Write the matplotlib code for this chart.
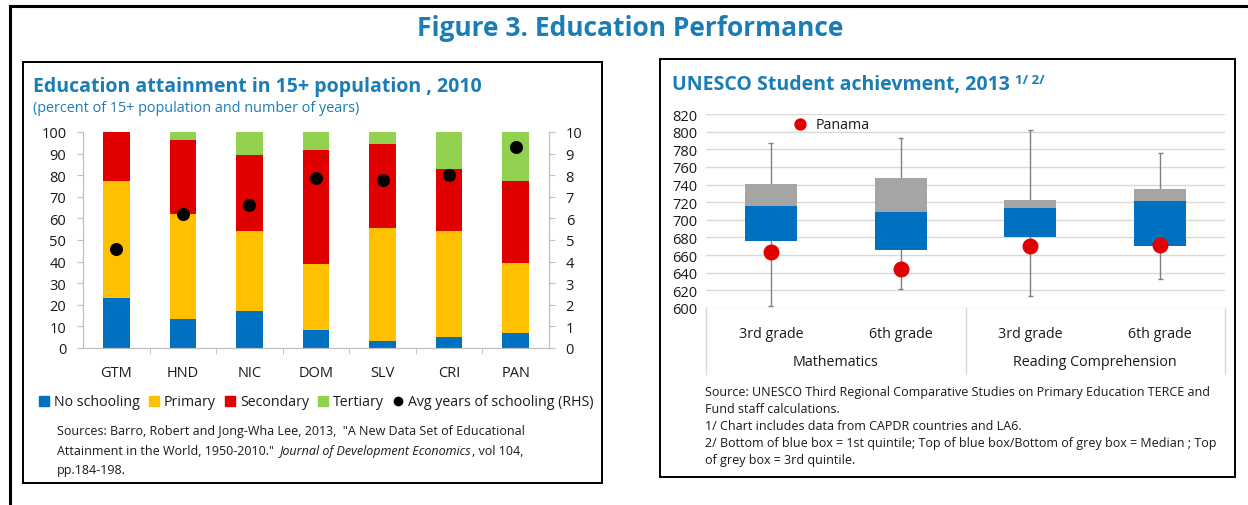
import matplotlib
matplotlib.use('Agg')
import matplotlib.pyplot as plt
from matplotlib.patches import Rectangle
from matplotlib.lines import Line2D

plt.rcParams['font.family'] = ['Open Sans', 'DejaVu Sans']

W, H = 1248, 506

# left panel: education attainment (percent of 15+ population)
countries = ['GTM', 'HND', 'NIC', 'DOM', 'SLV', 'CRI', 'PAN']
no_school = [23.3, 13.6, 17.1, 8.2, 3.4, 5.0, 7.1]
primary = [53.8, 48.6, 36.9, 30.9, 52.3, 49.3, 32.1]
secondary = [22.9, 34.0, 35.2, 52.7, 38.9, 28.6, 38.3]
tertiary = [0.0, 3.8, 10.8, 8.2, 5.4, 17.1, 22.5]
avg_years = [4.59, 6.22, 6.64, 7.89, 7.80, 8.00, 9.29]

# right panel: UNESCO TERCE scores
grades = ['3rd grade', '6th grade', '3rd grade', '6th grade']
subjects = ['Mathematics', 'Reading Comprehension']
q1 = [676, 666, 680, 670]
median = [716, 709, 713, 721]
q3 = [741, 747, 723, 735]
w_low = [602, 622, 614, 633]
w_high = [787, 793, 802, 776]
panama = [664, 644, 670, 671]

BLUE, YELLOW, RED, GREEN = '#0070C0', '#FFC000', '#E00000', '#92D050'
TEAL = '#1B7DB5'
TXT = '#1a1a1a'


def fx(x):
    return x / W


def fy(y):
    return 1 - y / H


def chain_text(fig, x, y, parts, **kw):
    # draw pieces of one line one after another (for the italic part)
    r = fig.canvas.get_renderer()
    x = fx(x)
    for s, style, gap in parts:
        t = fig.text(x, fy(y), s, style=style, **kw)
        bb = t.get_window_extent(renderer=r)
        x += (bb.width + gap) / W


fig = plt.figure(figsize=(W / 100, H / 100), dpi=100)

# frames
fig.add_artist(Line2D([fx(10), fx(10)], [fy(7), 0], color='black', lw=2.2))
fig.add_artist(Line2D([fx(10), 1], [fy(7), fy(7)], color='black', lw=2.2))
fig.add_artist(Rectangle((fx(23), fy(484)), fx(602 - 23), (484 - 63) / H,
                         fill=False, ec='black', lw=1.4))
fig.add_artist(Rectangle((fx(660), fy(478)), fx(1235 - 660), (478 - 60) / H,
                         fill=False, ec='black', lw=1.4))

fig.text(fx(630), fy(28), 'Figure 3. Education Performance', ha='center',
         va='center', fontsize=19, fontweight='bold', color=TEAL)

# ---- left panel ----
fig.text(fx(33), fy(87), 'Education attainment in 15+ population , 2010',
         va='center', fontsize=14, fontweight='bold', color=TEAL)
fig.text(fx(33), fy(108), '(percent of 15+ population and number of years)',
         va='center', fontsize=10.4, color=TEAL)

ax1 = fig.add_axes([fx(83), fy(349), fx(549 - 83), (349 - 133) / H])
x = list(range(len(countries)))
bottom = [0.0] * len(countries)
for vals, col, lab in [(no_school, BLUE, 'No schooling'),
                       (primary, YELLOW, 'Primary'),
                       (secondary, RED, 'Secondary'),
                       (tertiary, GREEN, 'Tertiary')]:
    ax1.bar(x, vals, 0.4, bottom=bottom, color=col, label=lab, zorder=2)
    bottom = [b + v for b, v in zip(bottom, vals)]

ax1.set_xlim(-0.5, len(countries) - 0.5)
ax1.set_ylim(0, 100)
ax1.set_yticks(range(0, 101, 10))
ax1.set_xticks(x)
ax1.set_xticklabels(countries)
ax1.set_xticks([i + 0.5 for i in x[:-1]], minor=True)
ax1.tick_params(axis='x', which='major', length=0, pad=12, labelsize=10.5,
                labelcolor=TXT)
ax1.tick_params(axis='x', which='minor', length=4, color='#bfbfbf')
ax1.tick_params(axis='y', length=4, color='#bfbfbf', labelsize=10.5,
                labelcolor=TXT, pad=8)
for s in ['left', 'right', 'bottom']:
    ax1.spines[s].set_color('#bfbfbf')
ax1.spines['top'].set_visible(False)

ax1r = ax1.twinx()
ax1r.scatter(x, avg_years, s=70, color='black', zorder=3,
             label='Avg years of schooling (RHS)')
ax1r.set_ylim(0, 10)
ax1r.set_yticks(range(0, 11))
ax1r.tick_params(axis='y', length=4, color='#bfbfbf', labelsize=10.5,
                 labelcolor=TXT, pad=8)
for s in ['left', 'right', 'bottom']:
    ax1r.spines[s].set_color('#bfbfbf')
ax1r.spines['top'].set_visible(False)

handles = [Line2D([], [], ls='', marker='s', ms=7, color=c)
           for c in [BLUE, YELLOW, RED, GREEN]]
handles.append(Line2D([], [], ls='', marker='o', ms=6, color='black'))
labels = ['No schooling', 'Primary', 'Secondary', 'Tertiary',
          'Avg years of schooling (RHS)']
fig.legend(handles, labels, loc='center', bbox_to_anchor=(fx(316), fy(403)),
           ncol=5, frameon=False, fontsize=10.2, handlelength=0.8,
           handletextpad=0.3, columnspacing=0.6, labelcolor=TXT)

src_kw = dict(va='center', fontsize=9.0, color=TXT)
fig.text(fx(57), fy(432), 'Sources: Barro, Robert and Jong-Wha Lee, 2013,  '
         '"A New Data Set of Educational', **src_kw)
chain_text(fig, 57, 452,
           [('Attainment in the World, 1950-2010."', 'normal', 6),
            ('Journal of Development Economics', 'italic', 0),
            (', vol 104,', 'normal', 0)], **src_kw)
fig.text(fx(57), fy(471), 'pp.184-198.', **src_kw)

# ---- right panel ----
fig.text(fx(672), fy(85), 'UNESCO Student achievment, 2013', va='center',
         fontsize=14, fontweight='bold', color=TEAL)
fig.text(fx(1015), fy(80), '1/ 2/', va='center', fontsize=9.5,
         fontweight='bold', color=TEAL)

ax2 = fig.add_axes([fx(706), fy(309), fx(1225 - 706), (309 - 115) / H])
xb = list(range(len(grades)))
ax2.vlines(xb, w_low, w_high, color='#808080', lw=1, zorder=2)
ax2.hlines(w_low, [i - 0.02 for i in xb], [i + 0.02 for i in xb],
           color='#808080', lw=1, zorder=2)
ax2.hlines(w_high, [i - 0.02 for i in xb], [i + 0.02 for i in xb],
           color='#808080', lw=1, zorder=2)
ax2.bar(xb, [m - a for m, a in zip(median, q1)], 0.4, bottom=q1,
        color=BLUE, zorder=3)
ax2.bar(xb, [b - m for b, m in zip(q3, median)], 0.4, bottom=median,
        color='#A5A5A5', zorder=3)
ax2.scatter(xb, panama, s=110, color=RED, zorder=4, label='Panama')

ax2.set_xlim(-0.5, len(grades) - 0.5)
ax2.set_ylim(600, 820)
ax2.set_yticks(range(600, 821, 20))
ax2.grid(axis='y', color='#d9d9d9', lw=1, zorder=0)
ax2.set_axisbelow(True)
for s in ax2.spines.values():
    s.set_visible(False)
ax2.set_xticks(xb)
ax2.set_xticklabels(grades)
ax2.tick_params(axis='x', length=0, pad=13, labelsize=10.3, labelcolor=TXT)
ax2.tick_params(axis='y', length=0, labelsize=10.5, labelcolor=TXT, pad=6)

# category table lines under the axis
tab_low = -(375 - 309) / (309 - 115)
for xv in [0, 0.5, 1]:
    ax2.plot([xv, xv], [0, tab_low], transform=ax2.transAxes, color='#d9d9d9',
             lw=1, clip_on=False)
for i, sub in enumerate(subjects):
    ax2.text(0.25 + 0.5 * i, -(363 - 309) / (309 - 115), sub,
             transform=ax2.transAxes, ha='center', va='center', fontsize=10.3,
             color=TXT)

ax2.legend(loc='center left', bbox_to_anchor=(0.14, 0.948), frameon=False,
           fontsize=10.3, handletextpad=0.1, borderpad=0, markerscale=0.75,
           labelcolor=TXT)

notes = ['Source: UNESCO Third Regional Comparative Studies on Primary '
         'Education TERCE and',
         'Fund staff calculations.',
         '1/ Chart includes data from CAPDR countries and LA6.',
         '2/ Bottom of blue box = 1st quintile; Top of blue box/Bottom of '
         'grey box = Median ; Top',
         'of grey box = 3rd quintile.']
for i, line in enumerate(notes):
    fig.text(fx(705), fy(393 + 17 * i), line, **src_kw)

fig.savefig('out.png', dpi=100)
